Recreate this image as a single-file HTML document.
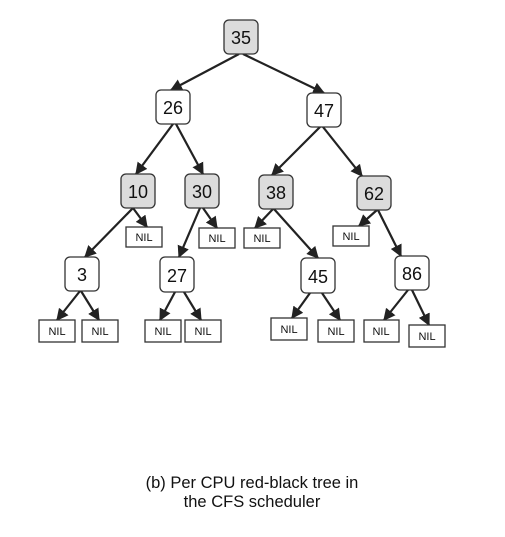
<!DOCTYPE html>
<html><head><style>body{margin:0;background:#fff}svg{display:block}</style></head><body>
<svg width="505" height="537" xmlns="http://www.w3.org/2000/svg" font-family="Liberation Sans, sans-serif">
<defs><marker id="a" viewBox="0 0 10 10" refX="9" refY="5" markerWidth="5.5" markerHeight="5.5" orient="auto"><path d="M0,0L10,5L0,10z" fill="#222"/></marker></defs>
<g stroke="#222" stroke-width="2.2" marker-end="url(#a)">
<line x1="239" y1="54" x2="171" y2="90"/>
<line x1="243" y1="54" x2="324" y2="93"/>
<line x1="173" y1="124" x2="136" y2="174"/>
<line x1="176" y1="124" x2="203" y2="174"/>
<line x1="320" y1="127" x2="272" y2="175"/>
<line x1="323" y1="127" x2="362" y2="176"/>
<line x1="133" y1="208" x2="85" y2="257"/>
<line x1="133" y1="208" x2="147" y2="227"/>
<line x1="200" y1="208" x2="179" y2="257"/>
<line x1="203" y1="208" x2="217" y2="228"/>
<line x1="273" y1="209" x2="255" y2="228"/>
<line x1="274" y1="209" x2="318" y2="258"/>
<line x1="377" y1="210" x2="359" y2="226"/>
<line x1="378" y1="210" x2="401" y2="256"/>
<line x1="80" y1="291" x2="57" y2="320"/>
<line x1="81" y1="291" x2="99" y2="320"/>
<line x1="175" y1="292" x2="160" y2="320"/>
<line x1="184" y1="292" x2="201" y2="320"/>
<line x1="310" y1="293" x2="292" y2="318"/>
<line x1="322" y1="293" x2="340" y2="320"/>
<line x1="408" y1="290" x2="384" y2="320"/>
<line x1="412" y1="290" x2="429" y2="325"/>
</g>
<g stroke="#333" stroke-width="1.3">
<rect x="224" y="20" width="34" height="34" rx="5" fill="#dcdcdc"/>
<rect x="156" y="90" width="34" height="34" rx="5" fill="#fff"/>
<rect x="307" y="93" width="34" height="34" rx="5" fill="#fff"/>
<rect x="121" y="174" width="34" height="34" rx="5" fill="#dcdcdc"/>
<rect x="185" y="174" width="34" height="34" rx="5" fill="#dcdcdc"/>
<rect x="259" y="175" width="34" height="34" rx="5" fill="#dcdcdc"/>
<rect x="357" y="176" width="34" height="34" rx="5" fill="#dcdcdc"/>
<rect x="65" y="257" width="34" height="34" rx="5" fill="#fff"/>
<rect x="160" y="257" width="34" height="35" rx="5" fill="#fff"/>
<rect x="301" y="258" width="34" height="35" rx="5" fill="#fff"/>
<rect x="395" y="256" width="34" height="34" rx="5" fill="#fff"/>
</g>
<g stroke="#333" stroke-width="1.3" fill="#fff">
<rect x="126" y="227" width="36" height="20"/>
<rect x="199" y="228" width="36" height="20"/>
<rect x="244" y="228" width="36" height="20"/>
<rect x="333" y="226" width="36" height="20"/>
<rect x="39" y="320" width="36" height="22"/>
<rect x="82" y="320" width="36" height="22"/>
<rect x="145" y="320" width="36" height="22"/>
<rect x="185" y="320" width="36" height="22"/>
<rect x="271" y="318" width="36" height="22"/>
<rect x="318" y="320" width="36" height="22"/>
<rect x="364" y="320" width="35" height="22"/>
<rect x="409" y="325" width="36" height="22"/>
</g>
<g font-size="18" text-anchor="middle" fill="#111">
<text x="241" y="44">35</text><text x="173" y="114">26</text><text x="324" y="117">47</text>
<text x="138" y="198">10</text><text x="202" y="198">30</text><text x="276" y="199">38</text><text x="374" y="200">62</text>
<text x="82" y="281">3</text><text x="177" y="282">27</text><text x="318" y="283">45</text><text x="412" y="280">86</text>
</g>
<g font-size="11" text-anchor="middle" fill="#111">
<text x="144" y="241">NIL</text><text x="217" y="242">NIL</text><text x="262" y="242">NIL</text><text x="351" y="240">NIL</text>
<text x="57" y="335">NIL</text><text x="100" y="335">NIL</text><text x="163" y="335">NIL</text><text x="203" y="335">NIL</text>
<text x="289" y="333">NIL</text><text x="336" y="335">NIL</text><text x="381" y="335">NIL</text><text x="427" y="340">NIL</text>
</g>
<g font-size="16.5" text-anchor="middle" fill="#111">
<text x="252" y="488">(b) Per CPU red-black tree in</text>
<text x="252" y="507">the CFS scheduler</text>
</g>
</svg>
</body></html>
